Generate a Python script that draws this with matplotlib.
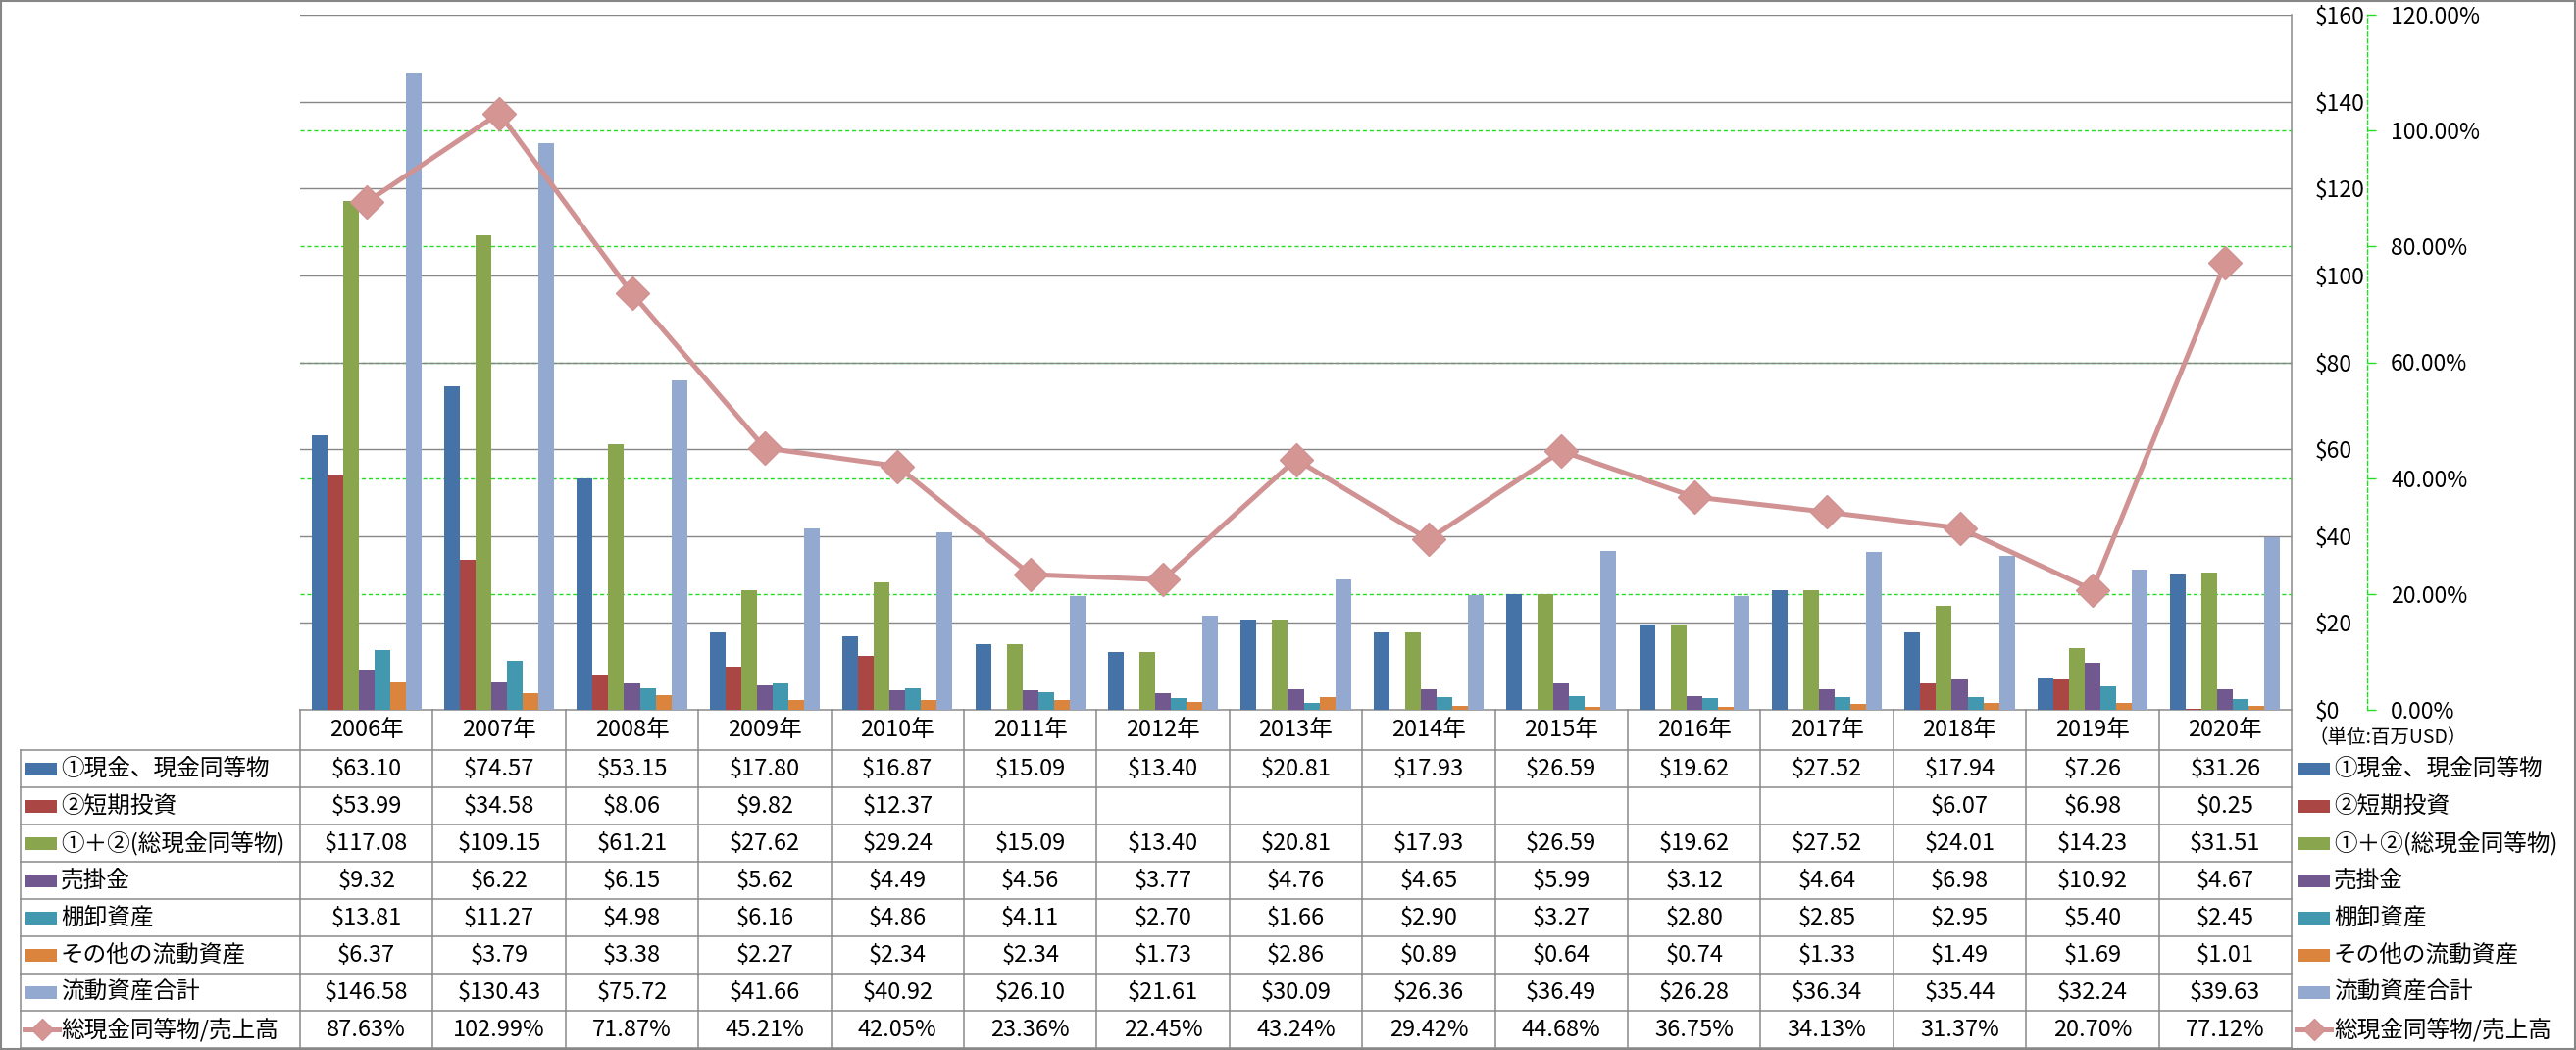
import numpy as np
import matplotlib
matplotlib.use('Agg')
import matplotlib.pyplot as plt
from matplotlib.patches import Rectangle
from matplotlib.lines import Line2D
from matplotlib import transforms

plt.rcParams['font.family'] = ['Noto Sans CJK JP', 'DejaVu Sans']

# ---------------- data ----------------
years = ['2006年', '2007年', '2008年', '2009年', '2010年', '2011年', '2012年', '2013年',
         '2014年', '2015年', '2016年', '2017年', '2018年', '2019年', '2020年']
cash = [63.10, 74.57, 53.15, 17.80, 16.87, 15.09, 13.40, 20.81, 17.93, 26.59, 19.62, 27.52, 17.94, 7.26, 31.26]
short_inv = [53.99, 34.58, 8.06, 9.82, 12.37, None, None, None, None, None, None, None, 6.07, 6.98, 0.25]
total_cash = [117.08, 109.15, 61.21, 27.62, 29.24, 15.09, 13.40, 20.81, 17.93, 26.59, 19.62, 27.52, 24.01, 14.23, 31.51]
receivables = [9.32, 6.22, 6.15, 5.62, 4.49, 4.56, 3.77, 4.76, 4.65, 5.99, 3.12, 4.64, 6.98, 10.92, 4.67]
inventory = [13.81, 11.27, 4.98, 6.16, 4.86, 4.11, 2.70, 1.66, 2.90, 3.27, 2.80, 2.85, 2.95, 5.40, 2.45]
other_ca = [6.37, 3.79, 3.38, 2.27, 2.34, 2.34, 1.73, 2.86, 0.89, 0.64, 0.74, 1.33, 1.49, 1.69, 1.01]
total_ca = [146.58, 130.43, 75.72, 41.66, 40.92, 26.10, 21.61, 30.09, 26.36, 36.49, 26.28, 36.34, 35.44, 32.24, 39.63]
ratio = [87.63, 102.99, 71.87, 45.21, 42.05, 23.36, 22.45, 43.24, 29.42, 44.68, 36.75, 34.13, 31.37, 20.70, 77.12]

series_names = ['①現金、現金同等物', '②短期投資', '①＋②(総現金同等物)', '売掛金',
                '棚卸資産', 'その他の流動資産', '流動資産合計']
series_values = [cash, short_inv, total_cash, receivables, inventory, other_ca, total_ca]
ratio_name = '総現金同等物/売上高'
usd_ticks = [0, 20, 40, 60, 80, 100, 120, 140, 160]
pct_ticks = [0, 20, 40, 60, 80, 100, 120]
unit_label = '（単位:百万USD）'

# ---------------- style ----------------
colors = ['#4572A7', '#AA4643', '#89A54E', '#71588F', '#4198AF', '#DB843D', '#93A9CF']
line_color = '#D09292'
grid_gray = '#878787'
green = '#22DD22'
FS = 17

W, H = 2627, 1071
fig = plt.figure(figsize=(W / 100, H / 100), dpi=100)


def px(x0, y0, x1, y1):
    return [x0 / W, 1 - y1 / H, (x1 - x0) / W, (y1 - y0) / H]


overlay = fig.add_axes([0, 0, 1, 1], zorder=0)
overlay.set_xlim(0, W)
overlay.set_ylim(H, 0)
overlay.axis('off')

PL, PR, PT, PB = 306, 2337, 15, 724
ax = fig.add_axes(px(PL, PT, PR, PB), zorder=1)
ax.patch.set_alpha(0)

n = len(years)
x = np.arange(n)
bw = 0.1185
for j, (vals, c) in enumerate(zip(series_values, colors)):
    xs = [xi + (j - 3) * bw for xi, v in zip(x, vals) if v is not None]
    hs = [v for v in vals if v is not None]
    ax.bar(xs, hs, width=bw, color=c, linewidth=0, zorder=3)

ax.set_xlim(-0.5, n - 0.5)
ax.set_ylim(0, 160)
ax.set_xticks([])
for s in ax.spines.values():
    s.set_visible(False)
for v in usd_ticks[1:]:
    ax.axhline(v, color=grid_gray, lw=1.0, zorder=1.5)
for p in pct_ticks[1:-1]:
    ax.axhline(p * 160 / 120, color=green, lw=1.0, ls=(0, (3, 2)), zorder=1)

ax2 = ax.twinx()
ax2.set_ylim(0, 120)
ax2.set_yticks(pct_ticks)
ax2.set_yticklabels([f'{v:.2f}%' for v in pct_ticks])
for k in ['left', 'top', 'bottom']:
    ax2.spines[k].set_visible(False)
ax2.spines['right'].set_position(('axes', (2414 - PL) / (PR - PL)))
ax2.spines['right'].set_color(green)
ax2.spines['right'].set_linestyle((0, (3, 2)))
ax2.spines['right'].set_linewidth(1.0)
ax2.tick_params(axis='y', direction='out', length=6.5, width=1.0, color=green,
                pad=10.8, labelsize=16.5, labelcolor='black')
ax2.plot(x, ratio, color=line_color, lw=3.6, marker='D', ms=17, mec=line_color,
         mfc='#D49593', mew=1.0, solid_joinstyle='round', zorder=5)

# primary axis: ticks hidden, labels placed left-aligned to the right of the plot
ax.set_yticks(usd_ticks)
ax.tick_params(axis='y', left=False, labelleft=False, right=False, labelright=False)
ylab_tr = transforms.blended_transform_factory(overlay.transData, ax.transData)
for v in usd_ticks:
    overlay.text(2361, v, f'${v}', ha='left', va='center_baseline', fontsize=16.5,
                 transform=ylab_tr)

# ---------------- table ----------------
tcol = '#8A8A8A'
blend = transforms.blended_transform_factory(ax.transData, overlay.transData)
HT, HB = 724, 765
RH = 38.04
TL = 21
rows_top = [HB + k * RH for k in range(9)]

overlay.plot([PL, PR], [HT, HT], color=tcol, lw=1.1)
for yy in rows_top:
    overlay.plot([TL, PR], [yy, yy], color=tcol, lw=1.1)
overlay.plot([TL, TL], [HB, rows_top[-1]], color=tcol, lw=1.1)
for i in range(n):
    overlay.plot([i - 0.5, i - 0.5], [HT, rows_top[-1]], color=tcol, lw=1.1, transform=blend)
overlay.plot([n - 0.5, n - 0.5], [PT, rows_top[-1]], color=tcol, lw=1.1, transform=blend)

for i, yr in enumerate(years):
    overlay.text(i, (HT + HB) / 2, yr, ha='center', va='center', fontsize=FS, transform=blend)

all_rows = series_values + [ratio]
for r, vals in enumerate(all_rows):
    yc = rows_top[r] + RH / 2
    for i, v in enumerate(vals):
        if v is None:
            continue
        s = f'{v:.2f}%' if r == len(series_values) else f'${v:.2f}'
        overlay.text(i, yc, s, ha='center', va='center', fontsize=FS, transform=blend)

# row labels (left) and legend (right)
for r, (name, c) in enumerate(zip(series_names, colors)):
    yc = rows_top[r] + RH / 2
    for sx, tx in [(26, 62), (2344, 2380)]:
        overlay.add_patch(Rectangle((sx, yc - 6.5), 32, 13, color=c, lw=0))
        overlay.text(tx, yc, name, ha='left', va='center', fontsize=FS)
yc = rows_top[7] + RH / 2
for sx, tx in [(25, 62), (2342, 2380)]:
    overlay.add_line(Line2D([sx, sx + 35], [yc, yc], color=line_color, lw=3.6))
    overlay.plot([sx + 17.5], [yc], marker='D', ms=11, color='#D49593', mec=line_color)
    overlay.text(tx, yc, ratio_name, ha='left', va='center', fontsize=FS)

overlay.text(2354, 752, unit_label, ha='left', va='center', fontsize=14)

overlay.add_patch(Rectangle((1, 1), W - 2, H - 2, fill=False, ec='#868686', lw=1.5))

fig.savefig('out.png', dpi=100)
